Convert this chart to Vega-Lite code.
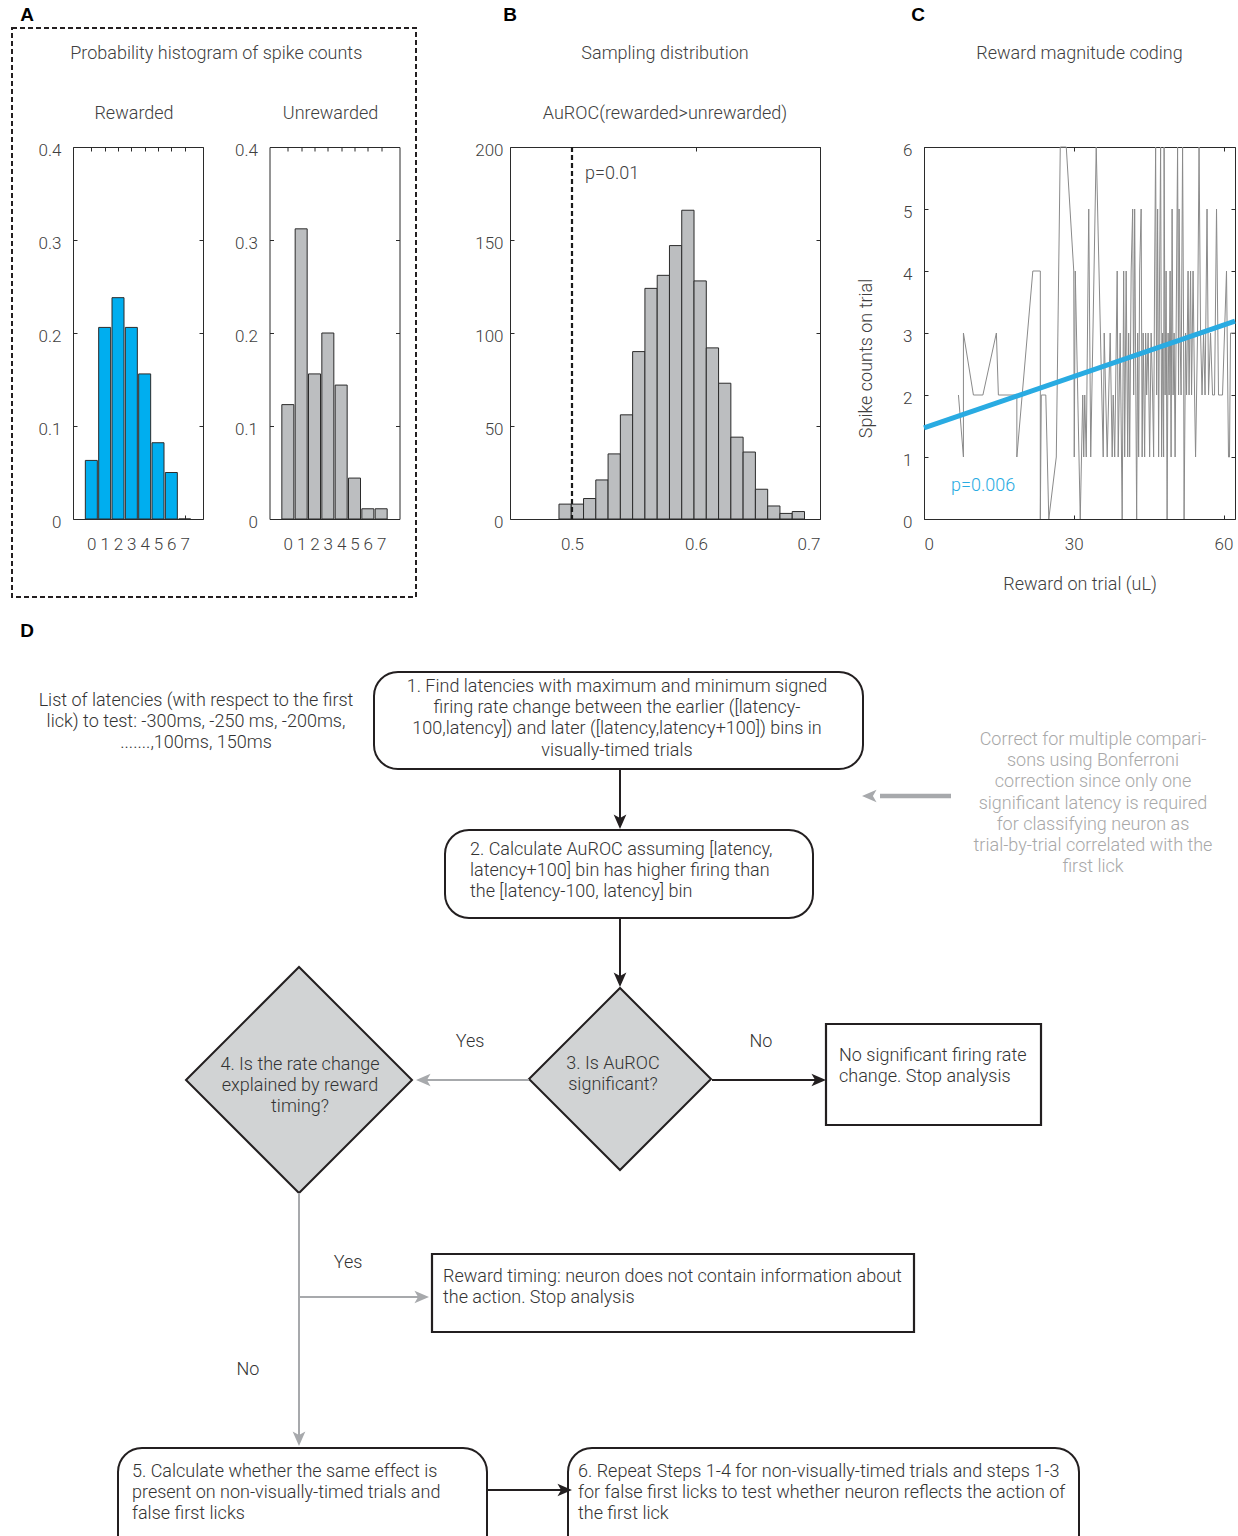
{
  "$schema": "https://vega.github.io/schema/vega-lite/v6.json",
  "padding": {"left": 0, "top": 6, "right": 0, "bottom": 0},
  "background": "white",
  "config": {
    "font": "Roboto",
    "view": {"stroke": "#2b2b2b", "strokeWidth": 1},
    "axis": {
      "domain": false, "ticks": false, "grid": true,
      "gridColor": "#2b2b2b", "gridOpacity": 1, "gridWidth": 1,
      "labelFontSize": 17, "labelColor": "#404040", "labelFontWeight": 300, "labelAngle": 0,
      "titleFontSize": 18, "titleFontWeight": 300, "titleColor": "#404040"
    },
    "axisX": {"labelPadding": 17.5},
    "axisY": {"labelOffset": 3},
    "title": {
      "fontSize": 18, "fontWeight": 300, "color": "#404040",
      "subtitleFontSize": 18, "subtitleFontWeight": 300, "subtitleColor": "#404040",
      "anchor": "middle"
    }
  },
  "datasets": {
    "rewarded": [
      {"spikes": 0, "prob": 0.063}, {"spikes": 1, "prob": 0.206}, {"spikes": 2, "prob": 0.238},
      {"spikes": 3, "prob": 0.206}, {"spikes": 4, "prob": 0.156}, {"spikes": 5, "prob": 0.082},
      {"spikes": 6, "prob": 0.050}, {"spikes": 7, "prob": 0}
    ],
    "unrewarded": [
      {"spikes": 0, "prob": 0.123}, {"spikes": 1, "prob": 0.312}, {"spikes": 2, "prob": 0.156},
      {"spikes": 3, "prob": 0.200}, {"spikes": 4, "prob": 0.144}, {"spikes": 5, "prob": 0.044},
      {"spikes": 6, "prob": 0.011}, {"spikes": 7, "prob": 0.011}
    ],
    "shuffles": [
      {"lo": 0.4895, "hi": 0.4994, "n": 8}, {"lo": 0.4994, "hi": 0.5093, "n": 8},
      {"lo": 0.5093, "hi": 0.5192, "n": 11}, {"lo": 0.5192, "hi": 0.5291, "n": 21},
      {"lo": 0.5291, "hi": 0.5390, "n": 35}, {"lo": 0.5390, "hi": 0.5489, "n": 56},
      {"lo": 0.5489, "hi": 0.5588, "n": 90}, {"lo": 0.5588, "hi": 0.5687, "n": 124},
      {"lo": 0.5687, "hi": 0.5786, "n": 131}, {"lo": 0.5786, "hi": 0.5885, "n": 147},
      {"lo": 0.5885, "hi": 0.5984, "n": 166}, {"lo": 0.5984, "hi": 0.6083, "n": 128},
      {"lo": 0.6083, "hi": 0.6182, "n": 92}, {"lo": 0.6182, "hi": 0.6281, "n": 73},
      {"lo": 0.6281, "hi": 0.6380, "n": 44}, {"lo": 0.6380, "hi": 0.6479, "n": 36},
      {"lo": 0.6479, "hi": 0.6578, "n": 16}, {"lo": 0.6578, "hi": 0.6677, "n": 7},
      {"lo": 0.6677, "hi": 0.6776, "n": 3}, {"lo": 0.6776, "hi": 0.6875, "n": 4}
    ],
    "trials": [
      {"trial": 1, "reward": 6.9, "spikes": 2}, {"trial": 2, "reward": 7.9, "spikes": 1},
      {"trial": 3, "reward": 7.9, "spikes": 3}, {"trial": 4, "reward": 9.9, "spikes": 2},
      {"trial": 5, "reward": 11.8, "spikes": 2}, {"trial": 6, "reward": 14.5, "spikes": 3},
      {"trial": 7, "reward": 14.9, "spikes": 2}, {"trial": 8, "reward": 18.6, "spikes": 2},
      {"trial": 9, "reward": 18.6, "spikes": 1}, {"trial": 10, "reward": 21.8, "spikes": 4},
      {"trial": 11, "reward": 23.3, "spikes": 4}, {"trial": 12, "reward": 23.3, "spikes": 0},
      {"trial": 13, "reward": 23.5, "spikes": 2}, {"trial": 14, "reward": 24.4, "spikes": 2},
      {"trial": 15, "reward": 25.0, "spikes": 0}, {"trial": 16, "reward": 26.5, "spikes": 1},
      {"trial": 17, "reward": 27.3, "spikes": 6}, {"trial": 18, "reward": 28.5, "spikes": 6},
      {"trial": 19, "reward": 30.0, "spikes": 4}, {"trial": 20, "reward": 30.1, "spikes": 1},
      {"trial": 21, "reward": 30.3, "spikes": 4}, {"trial": 22, "reward": 31.3, "spikes": 0},
      {"trial": 23, "reward": 31.8, "spikes": 2}, {"trial": 24, "reward": 32.0, "spikes": 1},
      {"trial": 25, "reward": 32.2, "spikes": 2}, {"trial": 26, "reward": 32.5, "spikes": 1},
      {"trial": 27, "reward": 33.0, "spikes": 5}, {"trial": 28, "reward": 33.4, "spikes": 1},
      {"trial": 29, "reward": 34.5, "spikes": 6}, {"trial": 30, "reward": 35.9, "spikes": 1},
      {"trial": 31, "reward": 36.1, "spikes": 3}, {"trial": 32, "reward": 36.7, "spikes": 1},
      {"trial": 33, "reward": 37.3, "spikes": 3}, {"trial": 34, "reward": 37.7, "spikes": 1},
      {"trial": 35, "reward": 37.9, "spikes": 2}, {"trial": 36, "reward": 38.2, "spikes": 1},
      {"trial": 37, "reward": 38.7, "spikes": 4}, {"trial": 38, "reward": 38.9, "spikes": 1},
      {"trial": 39, "reward": 39.3, "spikes": 3}, {"trial": 40, "reward": 39.7, "spikes": 0},
      {"trial": 41, "reward": 40.0, "spikes": 4}, {"trial": 42, "reward": 40.2, "spikes": 1},
      {"trial": 43, "reward": 40.5, "spikes": 4}, {"trial": 44, "reward": 40.8, "spikes": 1},
      {"trial": 45, "reward": 41.0, "spikes": 3}, {"trial": 46, "reward": 41.2, "spikes": 1},
      {"trial": 47, "reward": 41.5, "spikes": 4}, {"trial": 48, "reward": 41.8, "spikes": 5},
      {"trial": 49, "reward": 42.0, "spikes": 2}, {"trial": 50, "reward": 42.2, "spikes": 5},
      {"trial": 51, "reward": 42.6, "spikes": 0}, {"trial": 52, "reward": 42.8, "spikes": 3},
      {"trial": 53, "reward": 43.0, "spikes": 1}, {"trial": 54, "reward": 43.2, "spikes": 4},
      {"trial": 55, "reward": 43.5, "spikes": 5}, {"trial": 56, "reward": 43.7, "spikes": 1},
      {"trial": 57, "reward": 43.9, "spikes": 3}, {"trial": 58, "reward": 44.2, "spikes": 1},
      {"trial": 59, "reward": 44.4, "spikes": 3}, {"trial": 60, "reward": 44.6, "spikes": 2},
      {"trial": 61, "reward": 44.9, "spikes": 3}, {"trial": 62, "reward": 45.2, "spikes": 1},
      {"trial": 63, "reward": 45.5, "spikes": 3}, {"trial": 64, "reward": 45.8, "spikes": 2},
      {"trial": 65, "reward": 46.0, "spikes": 1}, {"trial": 66, "reward": 46.2, "spikes": 4},
      {"trial": 67, "reward": 46.4, "spikes": 6}, {"trial": 68, "reward": 46.6, "spikes": 2},
      {"trial": 69, "reward": 46.8, "spikes": 5}, {"trial": 70, "reward": 47.0, "spikes": 1},
      {"trial": 71, "reward": 47.2, "spikes": 4}, {"trial": 72, "reward": 47.4, "spikes": 6},
      {"trial": 73, "reward": 47.6, "spikes": 1}, {"trial": 74, "reward": 47.8, "spikes": 3},
      {"trial": 75, "reward": 48.0, "spikes": 1}, {"trial": 76, "reward": 48.1, "spikes": 6},
      {"trial": 77, "reward": 48.3, "spikes": 2}, {"trial": 78, "reward": 48.5, "spikes": 4},
      {"trial": 79, "reward": 48.7, "spikes": 0}, {"trial": 80, "reward": 48.9, "spikes": 3},
      {"trial": 81, "reward": 49.1, "spikes": 2}, {"trial": 82, "reward": 49.3, "spikes": 4},
      {"trial": 83, "reward": 49.5, "spikes": 1}, {"trial": 84, "reward": 49.7, "spikes": 5},
      {"trial": 85, "reward": 49.9, "spikes": 2}, {"trial": 86, "reward": 50.1, "spikes": 3},
      {"trial": 87, "reward": 50.3, "spikes": 1}, {"trial": 88, "reward": 50.5, "spikes": 3},
      {"trial": 89, "reward": 50.8, "spikes": 6}, {"trial": 90, "reward": 51.0, "spikes": 2},
      {"trial": 91, "reward": 51.1, "spikes": 5}, {"trial": 92, "reward": 51.3, "spikes": 3},
      {"trial": 93, "reward": 51.5, "spikes": 2}, {"trial": 94, "reward": 51.8, "spikes": 6},
      {"trial": 95, "reward": 52.0, "spikes": 3}, {"trial": 96, "reward": 52.1, "spikes": 0},
      {"trial": 97, "reward": 52.4, "spikes": 3}, {"trial": 98, "reward": 52.6, "spikes": 2},
      {"trial": 99, "reward": 52.9, "spikes": 4}, {"trial": 100, "reward": 53.1, "spikes": 2},
      {"trial": 101, "reward": 53.4, "spikes": 4}, {"trial": 102, "reward": 53.6, "spikes": 2},
      {"trial": 103, "reward": 53.9, "spikes": 4}, {"trial": 104, "reward": 54.2, "spikes": 2},
      {"trial": 105, "reward": 54.4, "spikes": 1}, {"trial": 106, "reward": 54.8, "spikes": 3},
      {"trial": 107, "reward": 55.1, "spikes": 6}, {"trial": 108, "reward": 55.4, "spikes": 3},
      {"trial": 109, "reward": 55.7, "spikes": 2}, {"trial": 110, "reward": 56.0, "spikes": 3},
      {"trial": 111, "reward": 56.3, "spikes": 2}, {"trial": 112, "reward": 56.7, "spikes": 5},
      {"trial": 113, "reward": 57.0, "spikes": 2}, {"trial": 114, "reward": 57.4, "spikes": 3},
      {"trial": 115, "reward": 57.8, "spikes": 2}, {"trial": 116, "reward": 58.2, "spikes": 2},
      {"trial": 117, "reward": 58.6, "spikes": 5}, {"trial": 118, "reward": 59.0, "spikes": 2},
      {"trial": 119, "reward": 59.4, "spikes": 2}, {"trial": 120, "reward": 59.8, "spikes": 2},
      {"trial": 121, "reward": 60.2, "spikes": 3}, {"trial": 122, "reward": 60.6, "spikes": 4},
      {"trial": 123, "reward": 61.0, "spikes": 1}, {"trial": 124, "reward": 61.2, "spikes": 1},
      {"trial": 125, "reward": 61.4, "spikes": 3}, {"trial": 126, "reward": 62.3, "spikes": 3}
    ],
    "fit": [{"reward": 0, "spikes": 1.47}, {"reward": 62.3, "spikes": 3.19}],
    "frame": [{"x": 12, "x2": 416, "y": 28, "y2": 597}],
    "letters": [
      {"panel": "A", "x": 27, "y": 15}, {"panel": "B", "x": 510, "y": 15},
      {"panel": "C", "x": 918, "y": 15}, {"panel": "D", "x": 27, "y": 631}
    ],
    "boxes": [
      {"node": "s1", "kind": "step", "x": 374, "x2": 863, "y": 672, "y2": 769},
      {"node": "s2", "kind": "step", "x": 445, "x2": 813, "y": 830, "y2": 918},
      {"node": "stop1", "kind": "stop", "x": 826, "x2": 1041, "y": 1024, "y2": 1125},
      {"node": "stop2", "kind": "stop", "x": 432, "x2": 914, "y": 1254, "y2": 1332},
      {"node": "s5", "kind": "step", "x": 118, "x2": 487, "y": 1448, "y2": 1570},
      {"node": "s6", "kind": "step", "x": 568, "x2": 1079, "y": 1448, "y2": 1570}
    ],
    "decisions": [
      {"node": "q3", "x": 620, "y": 1079, "diag": 182},
      {"node": "q4", "x": 299, "y": 1080, "diag": 226}
    ],
    "links": [
      {"x": 620, "y": 770, "x2": 620, "y2": 820, "tone": "main"},
      {"x": 620, "y": 919, "x2": 620, "y2": 978, "tone": "main"},
      {"x": 951, "y": 796, "x2": 880, "y2": 796, "tone": "note"},
      {"x": 529, "y": 1080, "x2": 426, "y2": 1080, "tone": "branch"},
      {"x": 712, "y": 1080, "x2": 816, "y2": 1080, "tone": "main"},
      {"x": 299, "y": 1193, "x2": 299, "y2": 1436, "tone": "branch"},
      {"x": 299, "y": 1297, "x2": 419, "y2": 1297, "tone": "branch"},
      {"x": 487, "y": 1490, "x2": 562, "y2": 1490, "tone": "main"}
    ],
    "heads": [
      {"x": 620, "y": 829, "dir": "down", "tone": "main"},
      {"x": 620, "y": 987, "dir": "down", "tone": "main"},
      {"x": 862, "y": 796, "dir": "left", "tone": "note"},
      {"x": 416, "y": 1080, "dir": "left", "tone": "branch"},
      {"x": 826, "y": 1080, "dir": "right", "tone": "main"},
      {"x": 299, "y": 1446, "dir": "down", "tone": "branch"},
      {"x": 429, "y": 1297, "dir": "right", "tone": "branch"},
      {"x": 572, "y": 1490, "dir": "right", "tone": "main"}
    ],
    "notes": [
      {"node": "list", "x": 196, "y": 699, "text": "List of latencies (with respect to the first\nlick) to test: -300ms, -250 ms, -200ms,\n.......,100ms, 150ms"},
      {"node": "s1", "x": 617, "y": 685, "text": "1. Find latencies with maximum and minimum signed\nfiring rate change between the earlier ([latency-\n100,latency]) and later ([latency,latency+100]) bins in\nvisually-timed trials"},
      {"node": "s2", "x": 470, "y": 848, "text": "2. Calculate AuROC assuming [latency,\nlatency+100] bin has higher firing than\nthe [latency-100, latency] bin"},
      {"node": "bonf", "x": 1093, "y": 738, "text": "Correct for multiple compari-\nsons using Bonferroni\ncorrection since only one\nsignificant latency is required\nfor classifying neuron as\ntrial-by-trial correlated with the\nfirst lick"},
      {"node": "q3", "x": 613, "y": 1062, "text": "3. Is AuROC\nsignificant?"},
      {"node": "q4", "x": 300, "y": 1063, "text": "4. Is the rate change\nexplained by reward\ntiming?"},
      {"node": "yes3", "x": 470, "y": 1040, "text": "Yes"},
      {"node": "no3", "x": 761, "y": 1040, "text": "No"},
      {"node": "stop1", "x": 839, "y": 1054, "text": "No significant firing rate\nchange. Stop analysis"},
      {"node": "yes4", "x": 348, "y": 1261, "text": "Yes"},
      {"node": "no4", "x": 248, "y": 1368, "text": "No"},
      {"node": "stop2", "x": 443, "y": 1275, "text": "Reward timing: neuron does not contain information about\nthe action. Stop analysis"},
      {"node": "s5", "x": 132, "y": 1470, "text": "5. Calculate whether the same effect is\npresent on non-visually-timed trials and\nfalse first licks"},
      {"node": "s6", "x": 578, "y": 1470, "text": "6. Repeat Steps 1-4 for non-visually-timed trials and steps 1-3\nfor false first licks to test whether neuron reflects the action of\nthe first lick"}
    ]
  },
  "spacing": -588,
  "vconcat": [
    {
      "spacing": 35,
      "hconcat": [
        {
          "title": {"text": "Probability histogram of spike counts", "anchor": "middle", "frame": "bounds", "dx": 16, "offset": 42},
          "spacing": 24.5,
          "hconcat": [
            {
              "width": 130, "height": 372,
              "title": {"text": "Rewarded", "dx": -4, "offset": 18},
              "data": {"name": "rewarded"},
              "mark": {"type": "bar", "orient": "vertical", "width": 12, "fill": "#00aeef", "stroke": "#2b2b2b", "strokeWidth": 1},
              "encoding": {
                "x": {"field": "spikes", "type": "quantitative",
                      "scale": {"domain": [-1, 8], "nice": false, "zero": false},
                      "axis": {"values": [0, 1, 2, 3, 4, 5, 6, 7], "gridDash": [4, 364, 4, 372], "title": null}},
                "y": {"field": "prob", "type": "quantitative",
                      "scale": {"domain": [0, 0.4], "nice": false},
                      "axis": {"values": [0, 0.1, 0.2, 0.3, 0.4], "format": ".1~f", "gridDash": [4, 122, 4, 130], "labelPadding": 12, "minExtent": 72, "title": null}}
              }
            },
            {
              "width": 130, "height": 372,
              "title": {"text": "Unrewarded", "dx": -4, "offset": 18},
              "data": {"name": "unrewarded"},
              "mark": {"type": "bar", "orient": "vertical", "width": 12, "fill": "#bcbec0", "stroke": "#2b2b2b", "strokeWidth": 1},
              "encoding": {
                "x": {"field": "spikes", "type": "quantitative",
                      "scale": {"domain": [-1, 8], "nice": false, "zero": false},
                      "axis": {"values": [0, 1, 2, 3, 4, 5, 6, 7], "gridDash": [4, 364, 4, 372], "title": null}},
                "y": {"field": "prob", "type": "quantitative",
                      "scale": {"domain": [0, 0.4], "nice": false},
                      "axis": {"values": [0, 0.1, 0.2, 0.3, 0.4], "format": ".1~f", "gridDash": [4, 122, 4, 130], "labelPadding": 12, "minExtent": 40, "title": null}}
              }
            }
          ]
        },
        {
          "width": 310, "height": 372,
          "title": {"text": "Sampling distribution", "subtitle": "AuROC(rewarded>unrewarded)", "offset": 18, "subtitlePadding": 42},
          "layer": [
            {
              "data": {"name": "shuffles"},
              "mark": {"type": "bar", "fill": "#bcbec0", "stroke": "#2b2b2b", "strokeWidth": 1},
              "encoding": {
                "x": {"field": "lo", "type": "quantitative",
                      "scale": {"domain": [0.45, 0.7], "nice": false, "zero": false},
                      "axis": {"values": [0.5, 0.6, 0.7], "format": ".1f", "gridDash": [4, 364, 4, 372], "title": null}},
                "x2": {"field": "hi"},
                "y": {"field": "n", "type": "quantitative",
                      "scale": {"domain": [0, 200], "nice": false},
                      "axis": {"values": [0, 50, 100, 150, 200], "gridDash": [4, 302, 4, 310], "labelPadding": 7, "minExtent": 74.5, "title": null}},
                "y2": {"datum": 0}
              }
            },
            {
              "data": {"values": [{}]},
              "mark": {"type": "rule", "stroke": "#1a1a1a", "strokeWidth": 2.2, "strokeDash": [5, 3]},
              "encoding": {"x": {"datum": 0.5, "type": "quantitative"}}
            },
            {
              "data": {"values": [{}]},
              "mark": {"type": "text", "align": "left", "baseline": "middle", "dx": 13, "fontSize": 18, "fontWeight": 300, "color": "#404040"},
              "encoding": {
                "x": {"datum": 0.5, "type": "quantitative"},
                "y": {"datum": 185.3, "type": "quantitative"},
                "text": {"value": "p=0.01"}
              }
            }
          ]
        },
        {
          "width": 311, "height": 372,
          "title": {"text": "Reward magnitude coding", "offset": 78},
          "layer": [
            {
              "data": {"name": "trials"},
              "mark": {"type": "line", "stroke": "#8a8a8a", "strokeWidth": 1},
              "encoding": {
                "x": {"field": "reward", "type": "quantitative",
                      "scale": {"domain": [0, 62.3], "nice": false, "zero": false},
                      "axis": {"values": [0, 30, 60], "gridDash": [4, 364, 4, 372], "title": "Reward on trial (uL)", "titlePadding": 22.5}},
                "y": {"field": "spikes", "type": "quantitative",
                      "scale": {"domain": [0, 6], "nice": false},
                      "axis": {"values": [0, 1, 2, 3, 4, 5, 6], "format": "d", "gridDash": [4, 303, 4, 311], "labelPadding": 12, "minExtent": 30, "title": "Spike counts on trial", "titlePadding": 19, "titleY": 211}},
                "order": {"field": "trial", "type": "quantitative"}
              }
            },
            {
              "data": {"name": "fit"},
              "mark": {"type": "line", "stroke": "#29abe2", "strokeWidth": 5},
              "encoding": {
                "x": {"field": "reward", "type": "quantitative"},
                "y": {"field": "spikes", "type": "quantitative"}
              }
            },
            {
              "data": {"values": [{}]},
              "mark": {"type": "text", "align": "left", "baseline": "middle", "fontSize": 18, "fontWeight": 300, "color": "#29abe2"},
              "encoding": {
                "x": {"datum": 5.4, "type": "quantitative"},
                "y": {"datum": 0.53, "type": "quantitative"},
                "text": {"value": "p=0.006"}
              }
            }
          ]
        }
      ]
    },
    {
      "width": 1165, "height": 936,
      "view": {"stroke": null},
      "resolve": {"scale": {"color": "independent", "size": "independent", "shape": "independent"}},
      "layer": [
        {
          "data": {"name": "frame"},
          "mark": {"type": "rect", "filled": false, "stroke": "#231f20", "strokeWidth": 2, "strokeDash": [5, 3]},
          "encoding": {
            "x": {"field": "x", "type": "quantitative", "scale": {"domain": [73, 1238], "nice": false, "zero": false}, "axis": null},
            "x2": {"field": "x2"},
            "y": {"field": "y", "type": "quantitative", "scale": {"domain": [600, 1536], "nice": false, "zero": false, "reverse": true}, "axis": null},
            "y2": {"field": "y2"}
          }
        },
        {
          "data": {"name": "boxes"},
          "transform": [{"filter": "datum.kind === 'step'"}],
          "mark": {"type": "rect", "filled": false, "stroke": "#231f20", "strokeWidth": 2, "cornerRadius": 24, "clip": true},
          "encoding": {
            "x": {"field": "x", "type": "quantitative", "axis": null},
            "x2": {"field": "x2"},
            "y": {"field": "y", "type": "quantitative", "axis": null},
            "y2": {"field": "y2"}
          }
        },
        {
          "data": {"name": "boxes"},
          "transform": [{"filter": "datum.kind === 'stop'"}],
          "mark": {"type": "rect", "filled": false, "stroke": "#231f20", "strokeWidth": 2.2},
          "encoding": {
            "x": {"field": "x", "type": "quantitative", "axis": null},
            "x2": {"field": "x2"},
            "y": {"field": "y", "type": "quantitative", "axis": null},
            "y2": {"field": "y2"}
          }
        },
        {
          "data": {"name": "decisions"},
          "mark": {"type": "point", "shape": "diamond", "filled": true, "fill": "#d1d3d4", "stroke": "#231f20", "strokeWidth": 2, "opacity": 1},
          "encoding": {
            "x": {"field": "x", "type": "quantitative", "axis": null},
            "y": {"field": "y", "type": "quantitative", "axis": null},
            "size": {"field": "diag", "type": "quantitative", "legend": null,
                     "scale": {"type": "pow", "exponent": 2, "domain": [0, 300], "range": [0, 90000]}}
          }
        },
        {
          "data": {"name": "links"},
          "transform": [{"filter": "datum.tone === 'main'"}],
          "mark": {"type": "rule", "stroke": "#231f20", "strokeWidth": 2},
          "encoding": {
            "x": {"field": "x", "type": "quantitative", "axis": null},
            "x2": {"field": "x2"},
            "y": {"field": "y", "type": "quantitative", "axis": null},
            "y2": {"field": "y2"}
          }
        },
        {
          "data": {"name": "links"},
          "transform": [{"filter": "datum.tone === 'branch'"}],
          "mark": {"type": "rule", "stroke": "#a7a9ac", "strokeWidth": 2},
          "encoding": {
            "x": {"field": "x", "type": "quantitative", "axis": null},
            "x2": {"field": "x2"},
            "y": {"field": "y", "type": "quantitative", "axis": null},
            "y2": {"field": "y2"}
          }
        },
        {
          "data": {"name": "links"},
          "transform": [{"filter": "datum.tone === 'note'"}],
          "mark": {"type": "rule", "stroke": "#a7a9ac", "strokeWidth": 4.5},
          "encoding": {
            "x": {"field": "x", "type": "quantitative", "axis": null},
            "x2": {"field": "x2"},
            "y": {"field": "y", "type": "quantitative", "axis": null},
            "y2": {"field": "y2"}
          }
        },
        {
          "data": {"name": "heads"},
          "mark": {"type": "point", "filled": true, "opacity": 1, "strokeWidth": 0},
          "encoding": {
            "x": {"field": "x", "type": "quantitative", "axis": null},
            "y": {"field": "y", "type": "quantitative", "axis": null},
            "shape": {"field": "dir", "type": "nominal", "legend": null,
                      "scale": {"domain": ["down", "left", "right"],
                                "range": ["M0,0L-0.7,-1.6L0,-1.2L0.7,-1.6Z", "M0,0L1.6,-0.7L1.2,0L1.6,0.7Z", "M0,0L-1.6,-0.7L-1.2,0L-1.6,0.7Z"]}},
            "color": {"field": "tone", "type": "nominal", "legend": null,
                      "scale": {"domain": ["main", "branch", "note"], "range": ["#231f20", "#a7a9ac", "#a7a9ac"]}},
            "size": {"field": "tone", "type": "ordinal", "legend": null,
                     "scale": {"domain": ["main", "branch", "note"], "range": [330, 330, 720]}}
          }
        },
        {
          "data": {"name": "notes"},
          "transform": [{"filter": {"field": "node", "oneOf": ["list", "s1", "q3", "q4", "yes3", "no3", "yes4", "no4"]}}],
          "mark": {"type": "text", "align": "center", "baseline": "line-top", "dy": -9.3, "lineBreak": "\n", "lineHeight": 21.3, "fontSize": 18, "fontWeight": 300, "color": "#333333"},
          "encoding": {
            "x": {"field": "x", "type": "quantitative", "axis": null},
            "y": {"field": "y", "type": "quantitative", "axis": null},
            "text": {"field": "text"}
          }
        },
        {
          "data": {"name": "notes"},
          "transform": [{"filter": {"field": "node", "oneOf": ["bonf"]}}],
          "mark": {"type": "text", "align": "center", "baseline": "line-top", "dy": -9.3, "lineBreak": "\n", "lineHeight": 21.3, "fontSize": 18, "fontWeight": 300, "color": "#a8a8a8"},
          "encoding": {
            "x": {"field": "x", "type": "quantitative", "axis": null},
            "y": {"field": "y", "type": "quantitative", "axis": null},
            "text": {"field": "text"}
          }
        },
        {
          "data": {"name": "notes"},
          "transform": [{"filter": {"field": "node", "oneOf": ["s2", "stop1", "stop2", "s5", "s6"]}}],
          "mark": {"type": "text", "align": "left", "baseline": "line-top", "dy": -9.3, "lineBreak": "\n", "lineHeight": 21.3, "fontSize": 18, "fontWeight": 300, "color": "#333333"},
          "encoding": {
            "x": {"field": "x", "type": "quantitative", "axis": null},
            "y": {"field": "y", "type": "quantitative", "axis": null},
            "text": {"field": "text"}
          }
        },
        {
          "data": {"name": "letters"},
          "mark": {"type": "text", "align": "center", "baseline": "middle", "fontSize": 19, "fontWeight": "bold", "font": "Liberation Sans", "color": "#000000"},
          "encoding": {
            "x": {"field": "x", "type": "quantitative", "axis": null},
            "y": {"field": "y", "type": "quantitative", "axis": null},
            "text": {"field": "panel"}
          }
        }
      ]
    }
  ]
}
